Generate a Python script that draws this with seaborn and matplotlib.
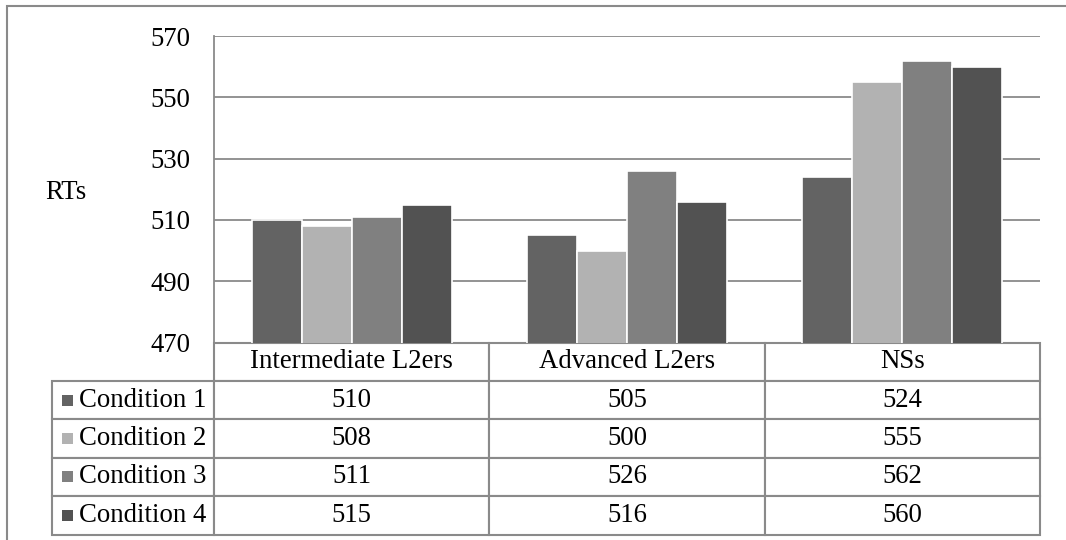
import pandas as pd
import matplotlib.pyplot as plt
import seaborn as sns
from matplotlib.patches import Rectangle

# data
groups = ['Intermediate L2ers', 'Advanced L2ers', 'NSs']
conditions = ['Condition 1', 'Condition 2', 'Condition 3', 'Condition 4']
cond1 = [510, 505, 524]
cond2 = [508, 500, 555]
cond3 = [511, 526, 562]
cond4 = [515, 516, 560]
y_ticks = [470, 490, 510, 530, 550, 570]
colors = ['#636363', '#b2b2b2', '#808080', '#525252']

values = [cond1, cond2, cond3, cond4]
rows = []
for c, vals in zip(conditions, values):
    for g, v in zip(groups, vals):
        rows.append({'Group': g, 'Condition': c, 'RT': v})
df = pd.DataFrame(rows)

sns.set_style('white')
plt.rcParams['font.family'] = ['Liberation Serif', 'DejaVu Serif']
FS = 19.3
GRAY = '#8a8a8a'

W, H = 1066, 540
fig = plt.figure(figsize=(W / 100, H / 100), dpi=100)

# plot area in pixels
px_l, px_r, px_t, px_b = 214, 1040, 36, 342.5
ax = fig.add_axes([px_l / W, 1 - px_b / H, (px_r - px_l) / W, (px_b - px_t) / H])

sns.barplot(data=df, x='Group', y='RT', hue='Condition', order=groups,
            hue_order=conditions, palette=colors, width=0.727,
            edgecolor='white', linewidth=1.2, saturation=1, legend=False, ax=ax)

ax.set_ylim(470, 570)
ax.set_yticks(y_ticks)
ax.set_yticklabels([str(t) for t in y_ticks], fontsize=FS)
ax.yaxis.grid(True, color=GRAY, linewidth=1.3)
ax.set_axisbelow(True)
ax.tick_params(axis='y', length=4, color=GRAY, width=1.2, pad=13, labelcolor='black')
ax.set_xticks(range(len(groups)))
ax.set_xticklabels([''] * len(groups))
ax.tick_params(axis='x', length=0)
ax.set_xlabel('')
ax.set_ylabel('')
for s in ['top', 'right', 'bottom']:
    ax.spines[s].set_visible(False)
ax.spines['left'].set_color(GRAY)
ax.spines['left'].set_linewidth(1.3)

fig.text(66 / W, 1 - 192 / H, 'RTs', ha='center', va='center', fontsize=FS, color='black')

# data table below the bars
ax_w = px_r - px_l
ax_h = px_b - px_t
tab_l, tab_b = 52, 534.5
label_w = px_l - tab_l
col_w = ax_w / 3
cell_text = [[''] + groups]
for c, vals in zip(conditions, values):
    cell_text.append([c] + [str(v) for v in vals])

table = ax.table(cellText=cell_text, cellLoc='center',
                 colWidths=[label_w / ax_w] + [col_w / ax_w] * 3,
                 bbox=[(tab_l - px_l) / ax_w, -(tab_b - px_b) / ax_h,
                       (px_r - tab_l) / ax_w, (tab_b - px_b) / ax_h])
table.auto_set_font_size(False)
table.set_fontsize(FS)
for (r, c), cell in table.get_celld().items():
    cell.set_edgecolor(GRAY)
    cell.set_linewidth(1.5)
    cell.get_text().set_fontsize(FS)
    cell.get_text().set_color('black')
    if c == 0:
        cell._loc = 'left'
        cell.PAD = 27 / label_w
        cell.get_text().set_ha('left')
table[0, 0].visible_edges = 'open'

# legend keys in the row labels
row_h = (tab_b - px_b) / 5
sq = 11
for i, col in enumerate(colors):
    cy = px_b + row_h * (i + 1.5)
    ax.add_patch(Rectangle(((62 - px_l) / ax_w, (px_b - cy - sq / 2) / ax_h),
                           sq / ax_w, sq / ax_h, transform=ax.transAxes,
                           facecolor=col, edgecolor='none', clip_on=False))

# outer chart border
fig.patches.append(Rectangle((7 / W, -0.1), 1.2, (H - 6) / H + 0.1,
                             transform=fig.transFigure, fill=False,
                             edgecolor=GRAY, linewidth=1.5))

fig.savefig('out.png', dpi=100)
